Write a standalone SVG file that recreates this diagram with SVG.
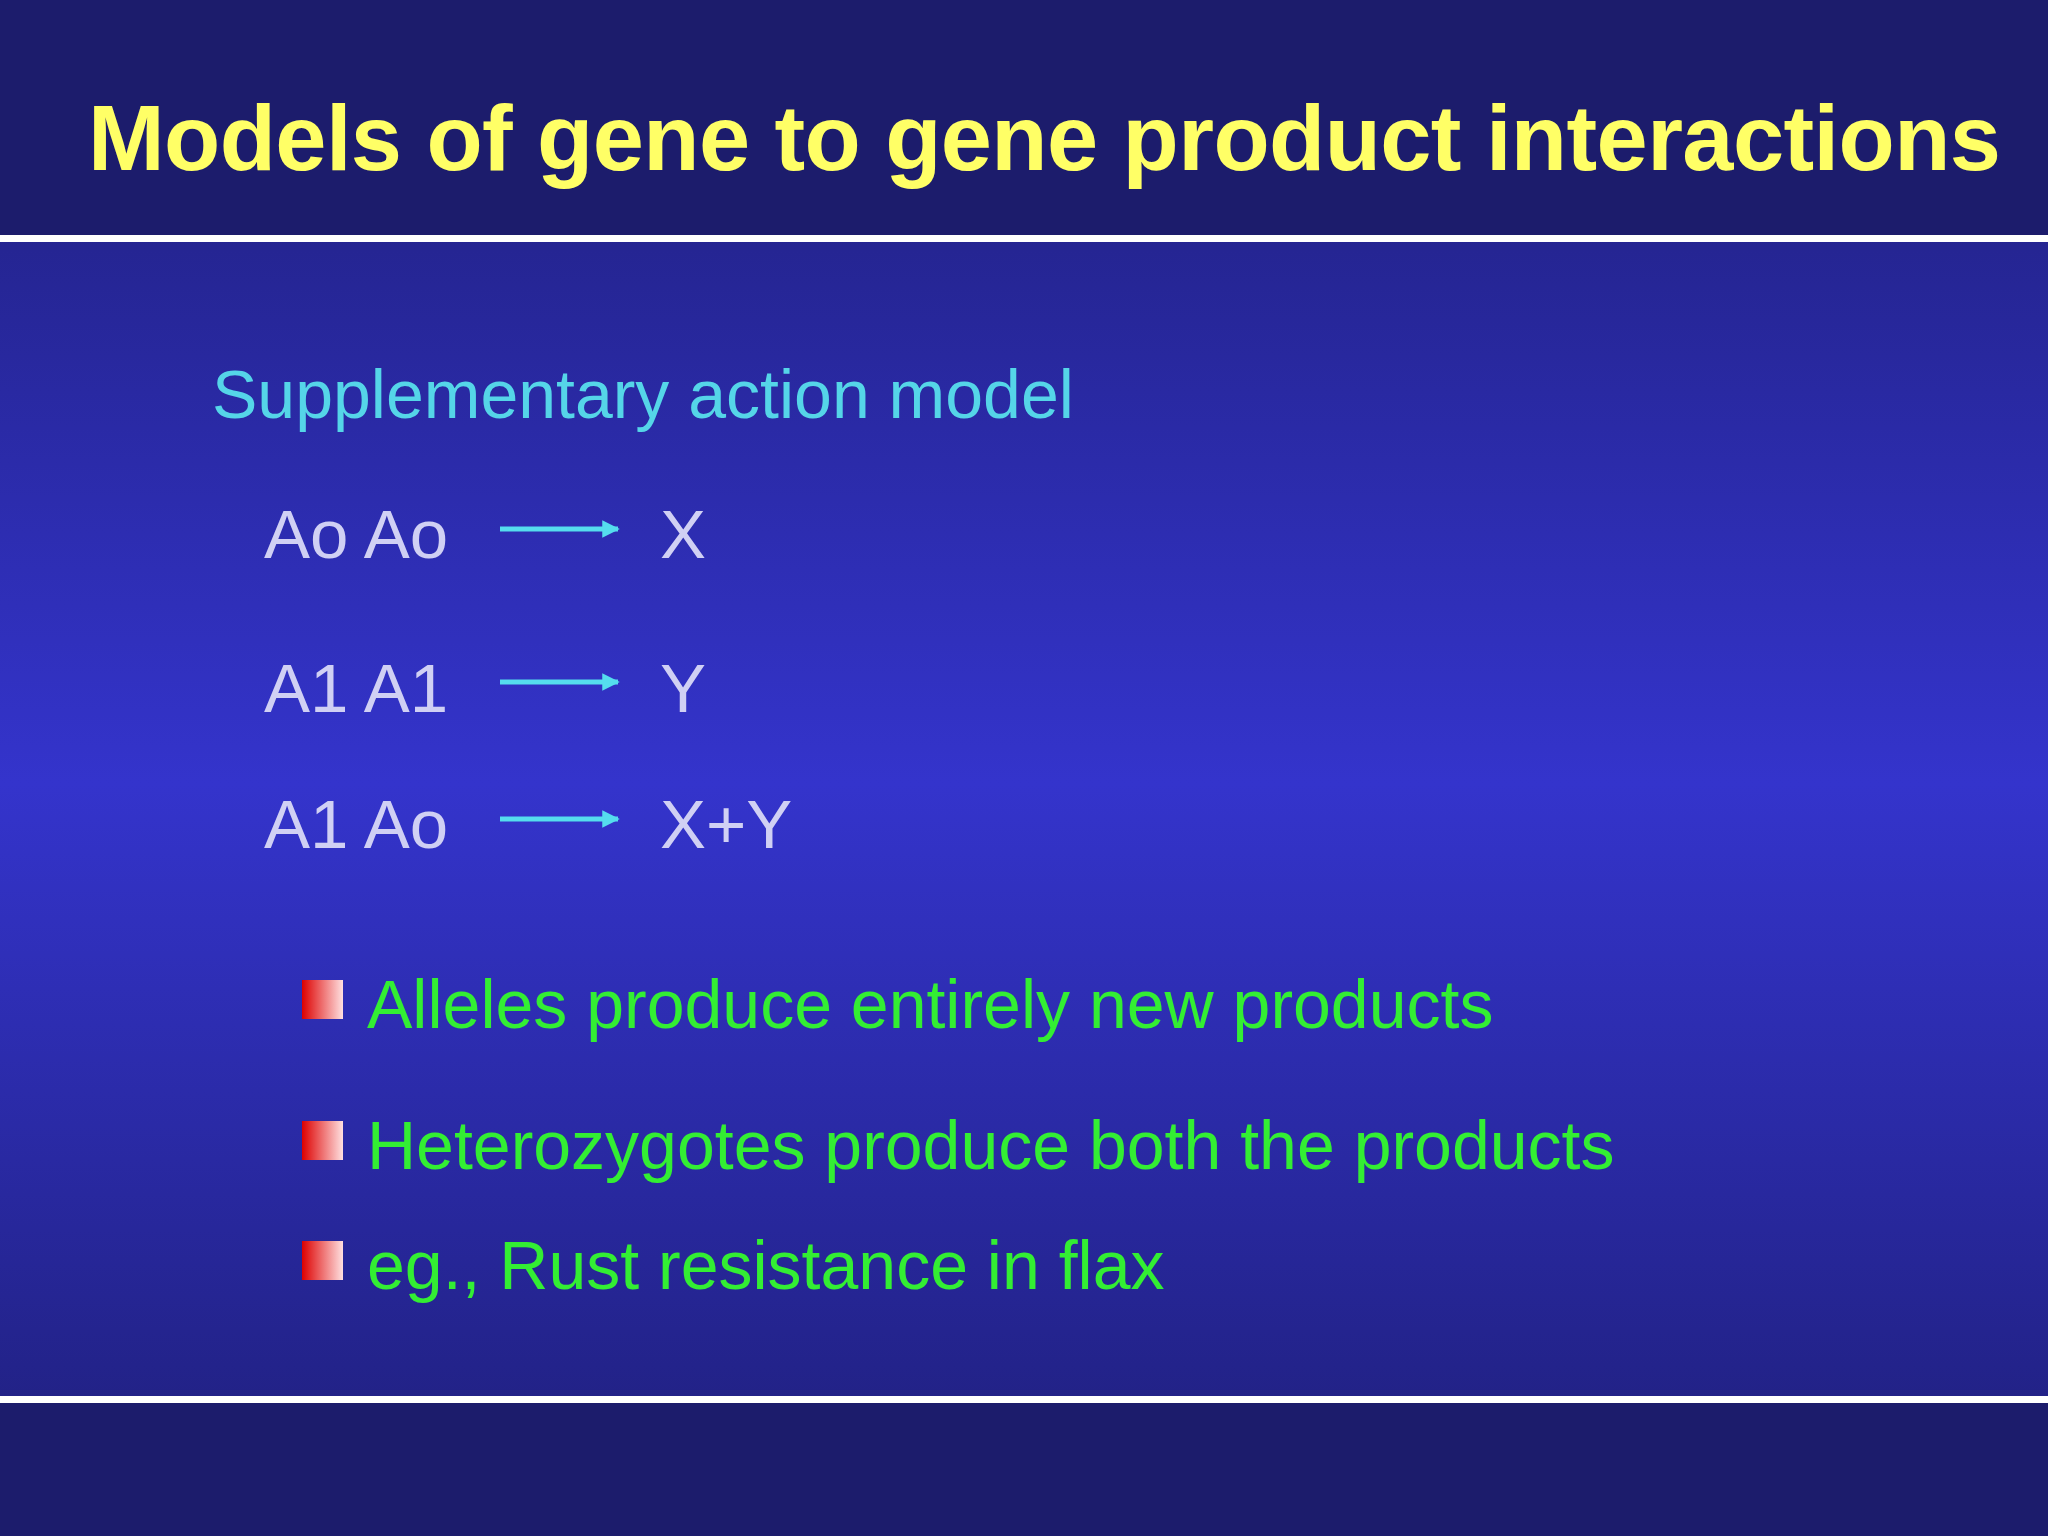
<svg xmlns="http://www.w3.org/2000/svg" width="2048" height="1536" viewBox="0 0 2048 1536">
<defs>
<linearGradient id="bg" x1="0" y1="0" x2="0" y2="1">
<stop offset="0" stop-color="#1e1e78"/><stop offset="0.51" stop-color="#3434cc"/><stop offset="1" stop-color="#1e1e78"/>
</linearGradient>
<linearGradient id="bul" x1="0" y1="0" x2="1" y2="0">
<stop offset="0" stop-color="#dd0000"/><stop offset="1" stop-color="#ffe0e0"/>
</linearGradient>
<marker id="ah" viewBox="0 0 10 10" refX="9" refY="5" markerWidth="3.5" markerHeight="3.5" orient="auto"><path d="M0,0 L10,5 L0,10 z" fill="#55ddee"/></marker>
<style>
.g{font-family:"Liberation Sans",Arial,sans-serif;font-size:69px;fill:#d0d0f4}
.b{font-family:"Liberation Sans",Arial,sans-serif;font-size:68px;fill:#33ee33}
.a{stroke:#55ddee;stroke-width:5;marker-end:url(#ah)}
</style>
</defs>
<rect width="2048" height="1536" fill="url(#bg)"/>
<rect width="2048" height="236" fill="#1c1c6c"/>
<rect y="1402" width="2048" height="134" fill="#1c1c6c"/>
<rect y="235" width="2048" height="7" fill="#ffffff"/>
<rect y="1396" width="2048" height="7" fill="#ffffff"/>
<text id="title" x="88" y="170" font-family="Liberation Sans,Arial,sans-serif" font-weight="bold" font-size="92" fill="#ffff66" textLength="1913">Models of gene to gene product interactions</text>
<text id="sub" x="212" y="418" font-family="Liberation Sans,Arial,sans-serif" font-size="68" fill="#55d5e8">Supplementary action model</text>
<g id="row1"><text class="g" x="264" y="558">Ao Ao</text><text class="g" x="660" y="558">X</text></g>
<g id="row2"><text class="g" x="264" y="712">A1 A1</text><text class="g" x="660" y="712">Y</text></g>
<g id="row3"><text class="g" x="264" y="848">A1 Ao</text><text class="g" x="660" y="848">X+Y</text></g>
<g id="connectors">
<line class="a" x1="500" y1="529" x2="618" y2="529"/>
<line class="a" x1="500" y1="682" x2="618" y2="682"/>
<line class="a" x1="500" y1="819" x2="618" y2="819"/>
</g>
<g id="b1"><rect x="302" y="980" width="41" height="39" fill="url(#bul)"/><text class="b" x="367" y="1028">Alleles produce entirely new products</text></g>
<g id="b2"><rect x="302" y="1121" width="41" height="39" fill="url(#bul)"/><text class="b" x="367" y="1169">Heterozygotes produce both the products</text></g>
<g id="b3"><rect x="302" y="1241" width="41" height="39" fill="url(#bul)"/><text class="b" x="367" y="1289">eg., Rust resistance in flax</text></g>
</svg>
